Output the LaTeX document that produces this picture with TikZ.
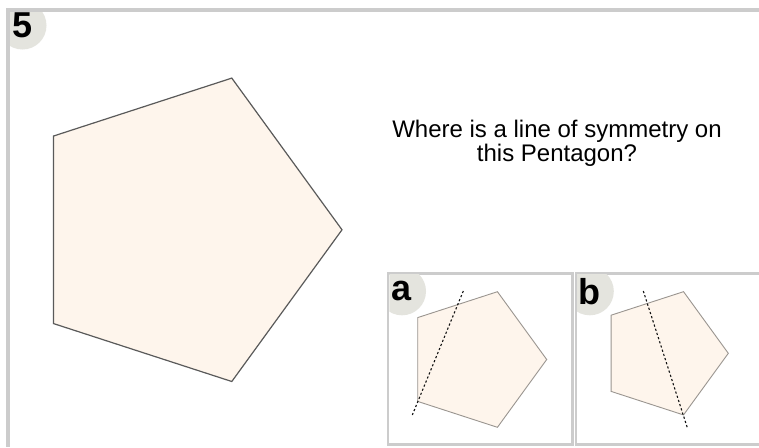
\documentclass[tikz,border=0pt]{standalone}
\usepackage{fontspec}
\setmainfont{Liberation Sans}
\usepackage{tikz}
\usetikzlibrary{positioning,calc,shapes.geometric}
\definecolor{qzframe}{HTML}{CCCCCC}
\definecolor{qzbadge}{HTML}{E4E4DE}
\definecolor{qzfill}{HTML}{FEF5EC}
\definecolor{qzedge}{HTML}{5A5A5A}
\definecolor{qzedgelight}{HTML}{9A9590}
\definecolor{qzink}{HTML}{111111}
\tikzset{
  frameLine/.style={draw=qzframe, line width=4pt},
  panelBox/.style={draw=qzframe, line width=2.5pt, inner sep=0pt, outer sep=0pt, anchor=north west},
  badgeDot/.style={circle, fill=qzbadge, minimum size=48pt, inner sep=0pt, font=\fontsize{36}{36}\selectfont\bfseries},
  bigPenta/.style={regular polygon, regular polygon sides=5, shape border rotate=-90, draw=qzedge, fill=qzfill, line width=1.2pt, inner sep=0pt},
  smallPenta/.style={regular polygon, regular polygon sides=5, shape border rotate=-90, draw=qzedgelight, fill=qzfill, line width=0.9pt, inner sep=0pt},
  symLine/.style={draw=qzink, line width=1.1pt, dash pattern=on 2.2pt off 2.2pt},
  questionText/.style={font=\fontsize{24}{24.5}\selectfont, align=center}
}

\begin{document}
\begin{tikzpicture}[x=1pt, y=-1pt]
  \clip (0,0) rectangle (759,447);
  \fill[white] (0,0) rectangle (759,447);

  % question card
  \coordinate (cardCorner) at (8,9.5);
  \begin{scope}
    \clip ($(cardCorner)+(2,2)$) rectangle (759,447);
    \node[badgeDot] (badgeNum) at ($(cardCorner)+(14.5,16)$) {5};
  \end{scope}
  \draw[frameLine] (759,9.5) -- (cardCorner) -- (8,447);

  \node[bigPenta, minimum size=319pt] (bigPentagon) at (182.5,229.8) {};
  \node[questionText] (question) at (557,143.5) {Where is a line of symmetry on\\this Pentagon?};

  % answer panels
  \node[panelBox, minimum width=184.5pt, minimum height=171pt] (panelA) at (388,273.3) {};
  \node[panelBox, minimum width=190pt, minimum height=171pt, right=3.3pt of panelA.north east, anchor=north west] (panelB) {};

  \begin{scope}
    \clip ($(panelA.north west)+(1.25,1.25)$) rectangle (panelA.south east);
    \node[badgeDot] (badgeA) at ($(panelA.north west)+(14,18)$) {a};
  \end{scope}
  \begin{scope}
    \clip ($(panelB.north west)+(1.25,1.25)$) rectangle (panelB.south east);
    \node[badgeDot] (badgeB) at ($(panelB.north west)+(14,18)$) {b};
  \end{scope}

  \node[smallPenta, minimum size=142.6pt] (pentaA) at (475.4,359.5) {};
  \node[smallPenta, minimum size=129.6pt] (pentaB) at (663.5,353.3) {};

  % candidate lines
  \coordinate (symATop) at (463.3,291);
  \coordinate (symABot) at (412.3,415);
  \coordinate (symBTop) at (643.3,291);
  \coordinate (symBBot) at (687.3,427.7);
  \draw[symLine] (symATop) -- (symABot);
  \draw[symLine] (symBTop) -- (symBBot);
\end{tikzpicture}
\end{document}
